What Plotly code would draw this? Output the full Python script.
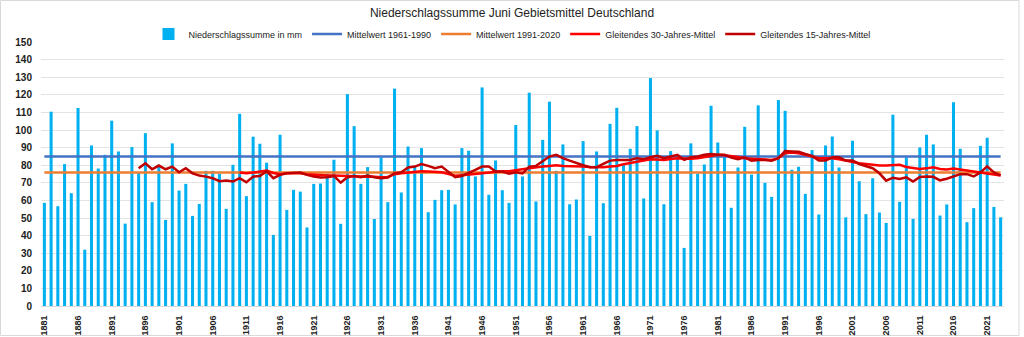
import plotly.graph_objects as go

years = list(range(1881, 2024))
precip = [
    58.6, 110.4, 56.7, 80.6, 64.1, 112.5, 32.0, 91.2, 78.1, 85.9,      # 1881-1890
    105.3, 87.8, 46.8, 90.3, 75.5, 98.2, 59.0, 80.0, 48.9, 92.4,       # 1891-1900
    65.6, 69.4, 51.2, 58.0, 76.8, 76.8, 75.1, 55.2, 80.2, 109.2,       # 1901-1910
    62.4, 96.2, 92.2, 81.4, 40.4, 97.3, 54.6, 66.0, 65.0, 44.6,        # 1911-1920
    69.4, 69.6, 75.1, 83.1, 46.7, 120.4, 102.2, 69.4, 78.9, 49.4,      # 1921-1930
    84.4, 59.0, 123.5, 64.5, 90.6, 79.5, 89.7, 53.3, 60.3, 65.8,       # 1931-1940
    66.0, 57.7, 89.7, 88.2, 73.6, 124.2, 63.2, 82.7, 65.8, 58.6,       # 1941-1950
    102.8, 73.6, 121.2, 59.4, 94.4, 116.1, 76.8, 91.8, 57.8, 60.5,     # 1951-1960
    93.7, 39.8, 87.8, 58.4, 103.5, 112.6, 80.2, 89.3, 102.2, 61.1,     # 1961-1970
    129.5, 99.8, 57.8, 88.0, 84.0, 33.0, 92.4, 75.1, 80.4, 113.8,      # 1971-1980
    92.9, 84.7, 55.8, 78.7, 101.8, 74.7, 114.0, 70.0, 62.0, 117.0,     # 1981-1990
    110.9, 77.4, 79.1, 63.7, 88.6, 52.0, 91.2, 96.3, 78.7, 50.4,       # 1991-2000
    93.9, 70.9, 52.2, 72.6, 53.1, 47.2, 108.7, 59.2, 84.4, 49.5,       # 2001-2010
    90.1, 97.3, 91.8, 51.4, 57.7, 115.7, 89.3, 47.6, 55.6, 91.0,       # 2011-2020
    95.6, 56.3, 50.4,                                                  # 2021-2023
]

mean_1961_1990 = 84.9
mean_1991_2020 = 75.8

ma30_years = list(range(1910, 2024))
ma30 = [
    75.8, 75.4, 75.8, 76.4, 77.0, 75.6, 74.9, 75.4, 75.6, 75.4,        # 1910-1919
    74.9, 74.5, 74.3, 74.1, 74.1, 73.9, 73.9, 73.7, 73.7, 73.5,        # 1920-1929
    73.5, 73.1, 73.3, 74.9, 75.4, 75.8, 76.0, 76.6, 76.4, 76.2,        # 1930-1939
    76.0, 75.0, 74.0, 74.3, 74.7, 75.1, 75.4, 75.9, 76.4, 76.5,        # 1940-1949
    76.6, 77.0, 77.7, 78.3, 78.9, 79.2, 79.6, 80.0, 79.6, 79.6,        # 1950-1959
    79.5, 79.3, 79.0, 78.8, 78.9, 79.3, 79.5, 80.5, 81.3, 82.1,        # 1960-1969
    82.8, 83.4, 83.2, 83.0, 83.5, 84.0, 83.8, 83.6, 84.0, 84.5,        # 1970-1979
    85.2, 85.9, 85.6, 85.3, 84.6, 84.0, 83.7, 83.4, 83.2, 83.0,        # 1980-1989
    84.0, 86.8, 87.2, 86.8, 85.9, 84.9, 84.0, 84.0, 84.0, 83.4,        # 1990-1999
    82.6, 82.1, 81.1, 80.7, 80.2, 79.8, 79.8, 80.0, 80.2, 79.0,        # 2000-2009
    78.4, 77.9, 78.2, 78.8, 77.8, 77.6, 78.1, 77.6, 76.8, 76.5,        # 2010-2019
    75.9, 75.5, 74.7, 74.2,                                            # 2020-2023
]

ma15_years = list(range(1895, 2024))
ma15 = [
    78.3, 81.1, 77.7, 79.8, 77.7,                                      # 1895-1899
    79.2, 76.0, 78.3, 75.4, 74.1, 73.5, 72.6, 70.9, 71.3, 70.7,        # 1900-1909
    72.6, 70.3, 73.5, 73.9, 76.6, 72.6, 74.5, 75.4, 75.4, 75.8,        # 1910-1919
    74.5, 73.5, 73.0, 73.2, 73.9, 70.1, 73.2, 73.9, 73.2, 74.1,        # 1920-1929
    73.2, 72.6, 73.0, 75.4, 76.0, 78.7, 79.2, 80.7, 79.6, 78.3,        # 1930-1939
    79.2, 76.4, 73.2, 73.9, 75.4, 77.3, 79.2, 79.2, 76.4, 76.4,        # 1940-1949
    75.1, 76.0, 75.4, 79.2, 79.6, 82.1, 84.9, 85.9, 84.0, 82.6,        # 1950-1959
    81.1, 80.0, 78.9, 78.9, 80.7, 82.6, 83.0, 83.0, 83.0, 84.0,        # 1960-1969
    83.4, 84.5, 85.3, 84.0, 84.9, 85.9, 83.0, 84.5, 84.9, 85.9,        # 1970-1979
    86.4, 85.9, 85.9, 84.4, 83.4, 84.5, 82.5, 83.0, 83.0, 82.5,        # 1980-1989
    84.0, 88.0, 87.8, 87.6, 86.4, 85.3, 82.6, 82.6, 84.5, 84.5,        # 1990-1999
    82.6, 82.6, 80.7, 79.6, 78.3, 75.4, 71.2, 72.9, 72.2, 73.1,        # 2000-2009
    70.7, 73.3, 73.6, 73.4, 71.4, 72.3, 73.7, 74.9, 74.9, 73.6,        # 2010-2019
    75.9, 79.3, 75.9, 74.2,                                            # 2020-2023
]

tick_years = list(range(1881, 2024, 5))
y_ticks = list(range(0, 151, 10))

W, H = 1024, 337
L, R, T, B = 41, 20, 42, 31
pw, ph = W - L - R, H - T - B

def px_x(x):
    return (x - L) / pw

def px_y(y):
    return (H - B - y) / ph

fig = go.Figure()
fig.add_trace(go.Bar(x=years, y=precip, name="Niederschlagssumme in mm",
                     marker=dict(color="#00B0F0", line=dict(width=0))))
fig.add_trace(go.Scatter(x=years, y=[mean_1961_1990] * len(years), mode="lines",
                         name="Mittelwert 1961-1990", line=dict(color="#4472C4", width=2.5)))
fig.add_trace(go.Scatter(x=years, y=[mean_1991_2020] * len(years), mode="lines",
                         name="Mittelwert 1991-2020", line=dict(color="#ED7D31", width=2.5)))
fig.add_trace(go.Scatter(x=ma30_years, y=ma30, mode="lines",
                         name="Gleitendes 30-Jahres-Mittel", line=dict(color="#FF0000", width=2.5)))
fig.add_trace(go.Scatter(x=ma15_years, y=ma15, mode="lines",
                         name="Gleitendes 15-Jahres-Mittel", line=dict(color="#C00000", width=2.5)))

fig.update_layout(
    width=W, height=H,
    margin=dict(l=L, r=R, t=T, b=B, pad=0, autoexpand=False),
    paper_bgcolor="white", plot_bgcolor="white",
    bargap=0.55,
    font=dict(family="Liberation Sans, Arial, sans-serif", color="#222222"),
    title=dict(text="Niederschlagssumme Juni Gebietsmittel Deutschland",
               x=0.5, xref="container", xanchor="center", y=1 - 13 / H, yanchor="middle",
               font=dict(size=12, color="#222222")),
    legend=dict(orientation="h", x=px_x(512), xanchor="center", y=px_y(34), yanchor="middle",
                font=dict(size=9, color="#222222"), bgcolor="rgba(0,0,0,0)",
                itemwidth=30, tracegroupgap=0),
    showlegend=True,
    xaxis=dict(range=[1880.5, 2023.5], tickmode="array", tickvals=tick_years,
               ticktext=[str(y) for y in tick_years], tickangle=-90,
               tickfont=dict(size=9, family="Liberation Sans, Arial, sans-serif", color="#222222"),
               showgrid=False, zeroline=False, showline=True, linecolor="#D9D9D9",
               linewidth=1, ticks="", ticklen=0, ticklabelstandoff=5, automargin=False),
    yaxis=dict(range=[0, 150], tickmode="array", tickvals=y_ticks,
               tickfont=dict(size=10, family="Liberation Sans, Arial, sans-serif", color="#222222"),
               showgrid=True, gridcolor="#E3E3E3", gridwidth=1, zeroline=False,
               showline=False, ticks="", ticklabelstandoff=8, automargin=False),
    shapes=[dict(type="rect", xref="paper", yref="paper",
                 x0=px_x(0.5), x1=px_x(1019), y0=px_y(335.5), y1=px_y(0.5),
                 line=dict(color="#D9D9D9", width=1), fillcolor="rgba(0,0,0,0)", layer="below")],
)
fig.update_xaxes(tickfont_weight="bold")
fig.update_yaxes(tickfont_weight="bold")

fig.write_html("out.html", config={"displayModeBar": False})
